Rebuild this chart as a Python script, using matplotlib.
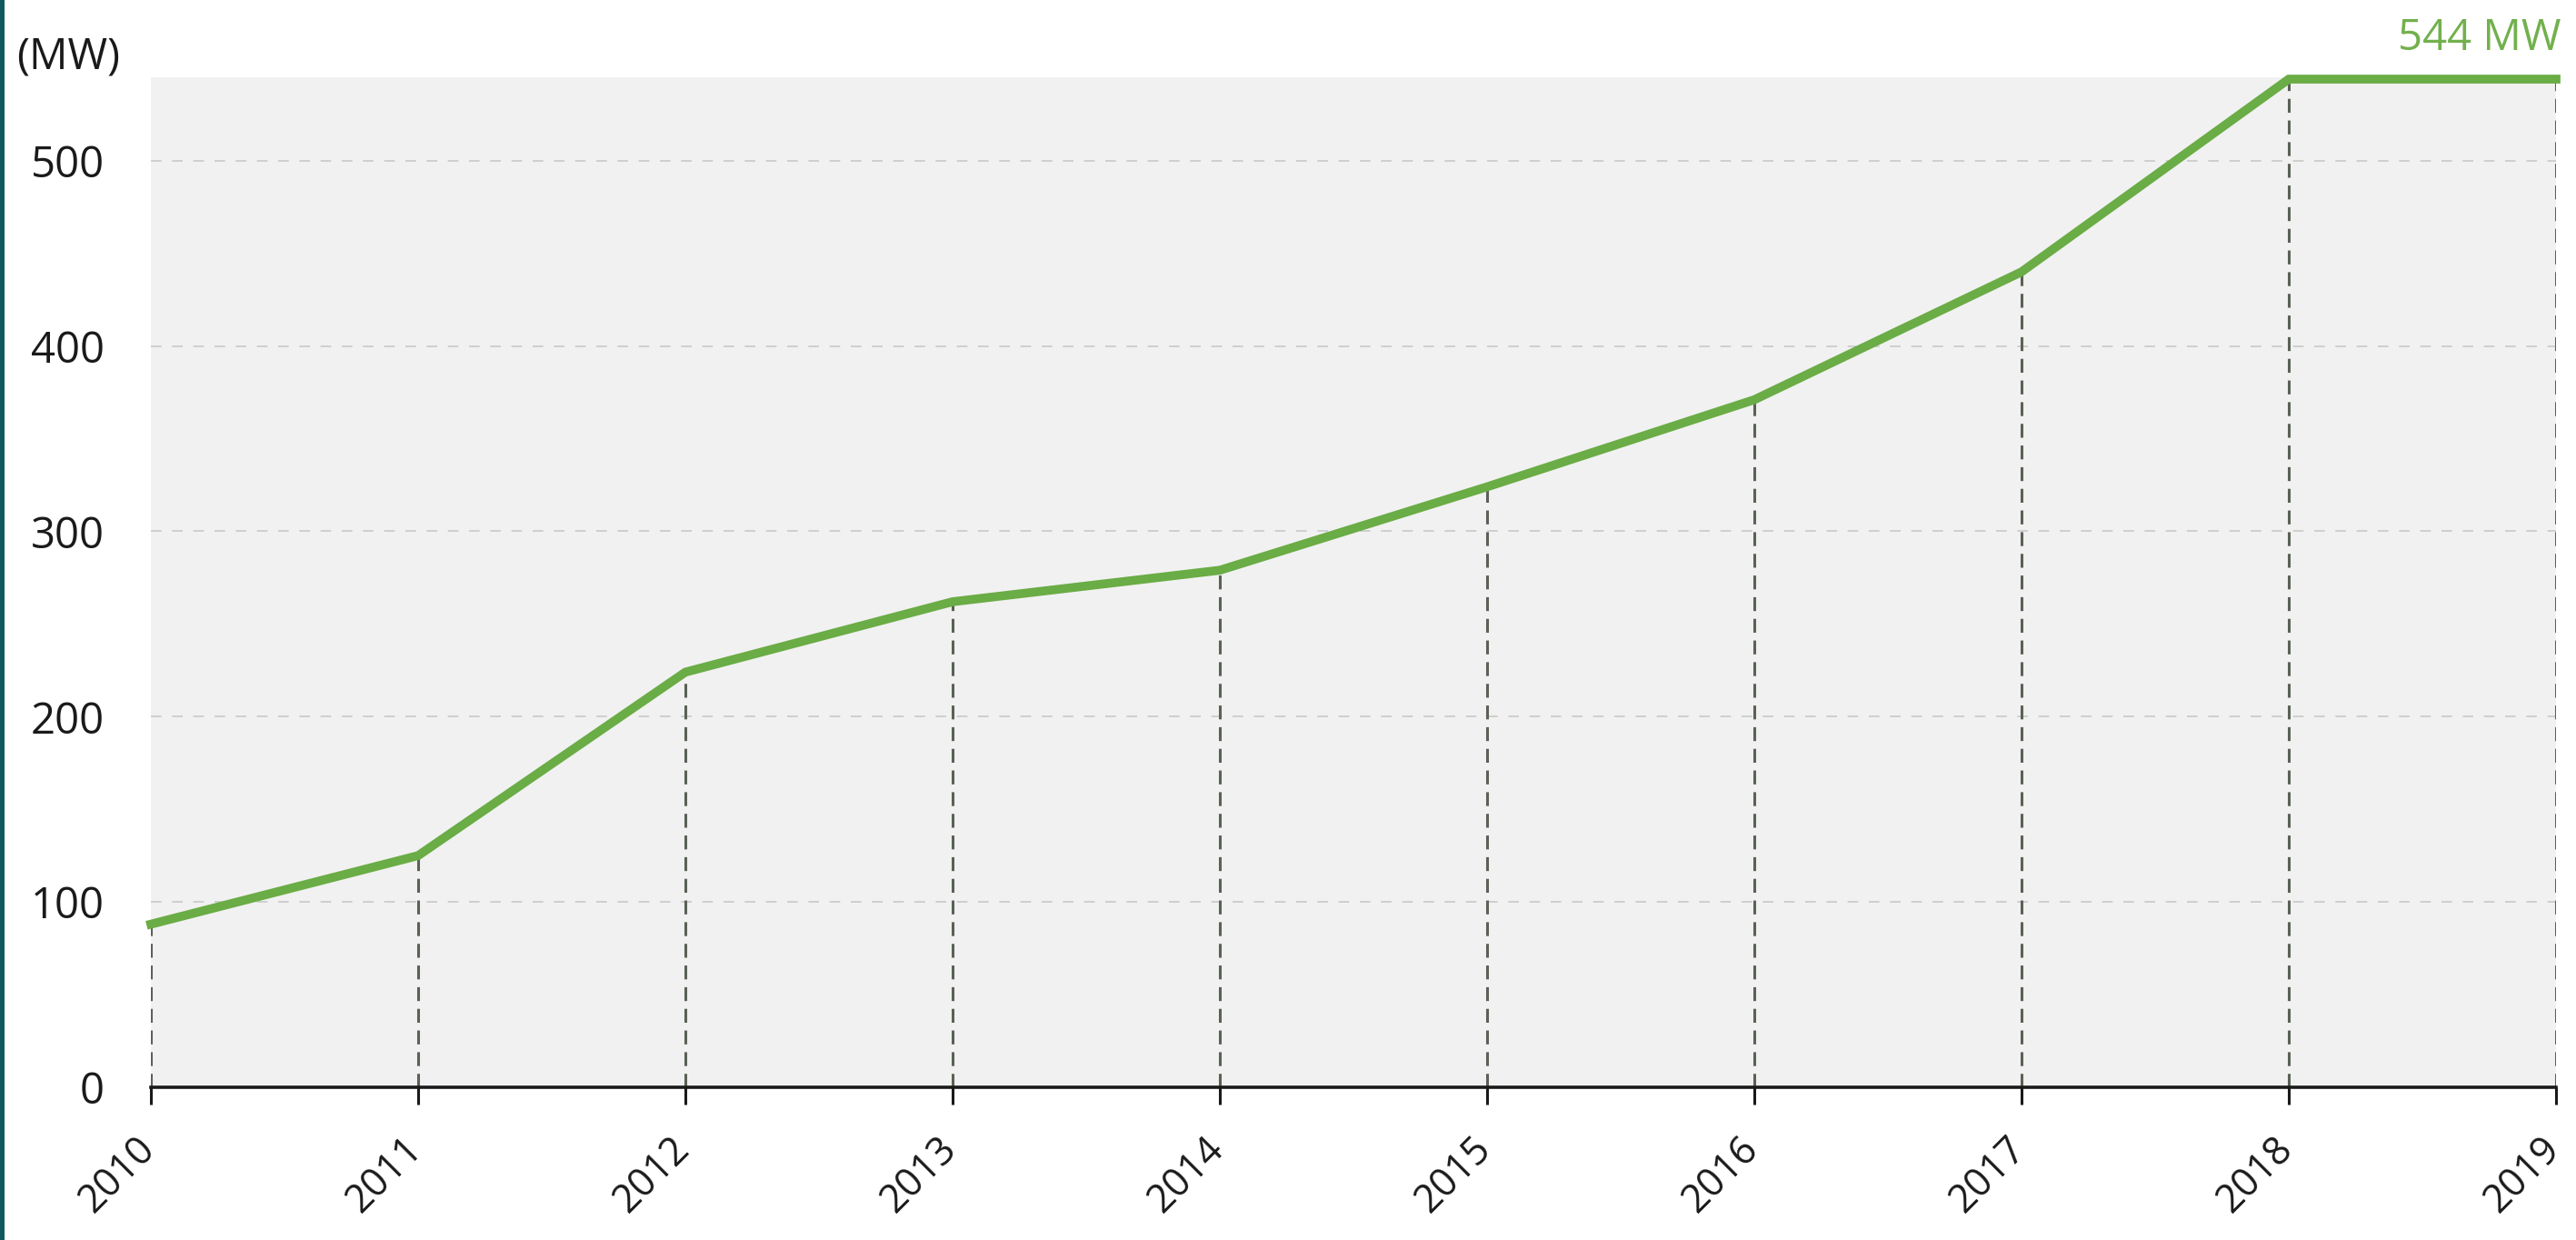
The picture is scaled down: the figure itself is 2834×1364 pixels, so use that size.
import matplotlib
matplotlib.use("Agg")
import matplotlib.pyplot as plt
from matplotlib.patches import Rectangle
from matplotlib.transforms import ScaledTranslation

years = [2010, 2011, 2012, 2013, 2014, 2015, 2016, 2017, 2018, 2019]
capacity_mw = [88, 125, 224, 262, 279, 324, 371, 440, 544, 544]
y_ticks = [0, 100, 200, 300, 400, 500]
x_labels = [str(y) for y in years]
unit_label = "(MW)"
end_label = "544 MW"

plt.rcParams['font.family'] = ['Open Sans', 'DejaVu Sans']
plt.rcParams['font.weight'] = 500

W, H = 2834, 1364
fig = plt.figure(figsize=(W / 100, H / 100), dpi=100)
fig.patch.set_facecolor('white')
ax = fig.add_axes([166 / W, 1 - 1196 / H, (2812 - 166) / W, (1196 - 85) / H])
ax.set_facecolor('#f1f1f1')

green = '#6aac45'

for v in y_ticks[1:]:
    ax.axhline(v, color='#cfcfcf', lw=1.4, ls=(0, (6, 6)), zorder=1)

ax.vlines(years, 0, capacity_mw, colors='#5a6156', lw=2.2, linestyles=(0, (5, 2.8)), zorder=2)

ax.plot(years, capacity_mw, color=green, lw=7, solid_joinstyle='miter', zorder=3, clip_on=False)

ax.set_xlim(years[0], years[-1])
ax.set_ylim(0, 545)

for s in ['top', 'right', 'left']:
    ax.spines[s].set_visible(False)
ax.spines['bottom'].set_linewidth(2.6)
ax.spines['bottom'].set_color('#1a1a1a')
ax.spines['bottom'].set_zorder(4)

ax.set_yticks(y_ticks)
ax.set_yticklabels([str(v) for v in y_ticks])
ax.tick_params(axis='y', length=0, pad=37, labelsize=34, labelcolor='#1a1a1a')

ax.set_xticks(years)
ax.set_xticklabels(x_labels, rotation=45, ha='right', va='center', rotation_mode='anchor')
ax.tick_params(axis='x', length=14, width=2.2, color='#1a1a1a', direction='out',
               pad=30, labelsize=31, labelcolor='#1a1a1a')
off = ScaledTranslation(-1 / 72, 0, fig.dpi_scale_trans)
for lab in ax.get_xticklabels():
    lab.set_transform(lab.get_transform() + off)

fig.text(18 / W, 1 - 63 / H, unit_label, fontsize=34, color='#1a1a1a', ha='left', va='center')
fig.text(2817 / W, 1 - 42 / H, end_label, fontsize=34, color='#72b04d', ha='right', va='center')

fig.patches.append(Rectangle((0, 0), 5 / W, 1, transform=fig.transFigure,
                             facecolor='#0e5960', edgecolor='none'))

fig.savefig('out.png', dpi=100)
